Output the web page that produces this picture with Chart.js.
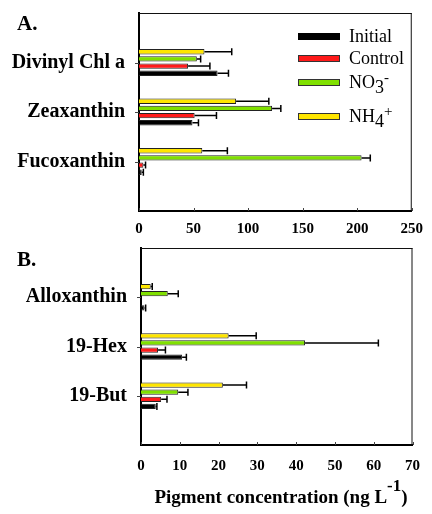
<!DOCTYPE html>
<html>
<head>
<meta charset="utf-8">
<script src="https://cdn.jsdelivr.net/npm/chart.js@4.4.0/dist/chart.umd.min.js"></script>
<style>
  html, body { margin: 0; padding: 0; background: #fff; }
  #wrap { position: relative; width: 432px; height: 514px; overflow: hidden;
          font-family: "Liberation Serif", "Times New Roman", serif; color: #000; }
  canvas { position: absolute; left: 0; }
  #chartA { top: 0; }
  #chartB { top: 245px; }
  .tag { position: absolute; left: 17px; font-weight: bold; font-size: 21px; line-height: 21px; }
  .leg { position: absolute; left: 298px; height: 20px; font-size: 18px; line-height: 20px; white-space: nowrap; }
  .leg .sw { position: absolute; left: 0; top: 7px; width: 40px; height: 5px; border: 1px solid #333; }
  .leg .tx { position: absolute; left: 51px; top: 0; }
  .lo { position: relative; top: 5px; }
  .hi { position: relative; top: -6px; font-size: 15px; }
  #xtitle { position: absolute; left: 140px; width: 282px; top: 487px; text-align: center;
            font-weight: bold; font-size: 19px; line-height: 20px; white-space: nowrap; }
  #xtitle sup { font-size: 17px; position: relative; top: -1px; vertical-align: top; line-height: 0; }
</style>
</head>
<body>
<div id="wrap">
  <canvas id="chartA" width="432" height="245"></canvas>
  <canvas id="chartB" width="432" height="269"></canvas>
  <div class="tag" style="top:13px">A.</div>
  <div class="tag" style="top:249px">B.</div>

  <div class="leg" style="top:26px"><span class="sw" style="background:#000;border-color:#000"></span><span class="tx">Initial</span></div>
  <div class="leg" style="top:48px"><span class="sw" style="background:#ff1a1a"></span><span class="tx">Control</span></div>
  <div class="leg" style="top:72px"><span class="sw" style="background:#80e000"></span><span class="tx">NO<span class="lo">3</span><span class="hi">-</span></span></div>
  <div class="leg" style="top:106px"><span class="sw" style="background:#ffe600"></span><span class="tx">NH<span class="lo">4</span><span class="hi">+</span></span></div>

  <div id="xtitle">Pigment concentration (ng L<sup>-1</sup>)</div>
</div>

<script>
// ---------- data ----------
// categories listed top -> bottom
const pigmentsA = ["Divinyl Chl a", "Zeaxanthin", "Fucoxanthin"];
const pigmentsB = ["Alloxanthin", "19-Hex", "19-But"];

const ticksA = [0, 50, 100, 150, 200, 250];
const ticksB = [0, 10, 20, 30, 40, 50, 60, 70];

// panel A means and +SD
const initialA = [72, 49, 2.5];
const initialErrA = [10, 5.5, 1.5];
const controlA = [45, 51, 4];
const controlErrA = [20, 20, 2];
const nitrateA = [53, 122, 204];
const nitrateErrA = [3.5, 8, 8];
const ammoniumA = [60, 89, 58];
const ammoniumErrA = [25, 30, 23];

// panel B means and +SD
const initialB = [0.9, 10.6, 3.8];
const initialErrB = [0.3, 1.1, 0.3];
const controlB = [0, 4.4, 5.2];
const controlErrB = [0, 1.9, 1.5];
const nitrateB = [6.9, 42.3, 9.6];
const nitrateErrB = [2.7, 18.9, 2.5];
const ammoniumB = [2.5, 22.6, 21.1];
const ammoniumErrB = [0.4, 7.1, 6.1];

const COLORS = { initial: "#000000", control: "#ff1a1a", nitrate: "#80e000", ammonium: "#ffe600" };
const SERIF = '"Liberation Serif", "Times New Roman", serif';

// empty slot above and below the three categories
const pad = (arr) => [null, ...arr, null];

/* ---------- plugins ---------- */

// +SD error bars, one-sided, with a cap
const errorBars = {
  id: "errorBars",
  afterDatasetsDraw(chart) {
    const { ctx } = chart;
    const xs = chart.scales.x;
    ctx.save();
    ctx.strokeStyle = "#000";
    ctx.lineWidth = 1.5;
    chart.data.datasets.forEach((ds, di) => {
      const meta = chart.getDatasetMeta(di);
      meta.data.forEach((bar, i) => {
        const v = ds.data[i];
        const e = ds.errors[i];
        if (v == null || !e) return;
        const x0 = xs.getPixelForValue(v);
        const x1 = xs.getPixelForValue(v + e);
        const y = bar.y;
        ctx.beginPath();
        ctx.moveTo(x0, y);
        ctx.lineTo(x1, y);
        ctx.moveTo(x1, y - 3.5);
        ctx.lineTo(x1, y + 3.5);
        ctx.stroke();
      });
    });
    ctx.restore();
  }
};

// top/right frame + small tick marks
const frame = {
  id: "frame",
  afterDraw(chart) {
    const { ctx, chartArea: a } = chart;
    const { x, y } = chart.scales;
    ctx.save();
    ctx.strokeStyle = "#111";
    ctx.lineWidth = 1;
    ctx.beginPath();
    ctx.moveTo(a.left, a.top + 0.5);
    ctx.lineTo(a.right, a.top + 0.5);
    ctx.moveTo(a.right - 0.5, a.top);
    ctx.lineTo(a.right - 0.5, a.bottom);
    ctx.stroke();

    ctx.strokeStyle = "#444";
    ctx.beginPath();
    x.ticks.forEach((t, i) => {
      const px = Math.round(x.getPixelForTick(i)) + 0.5;
      ctx.moveTo(px, a.bottom);
      ctx.lineTo(px, a.bottom - 3);
    });
    y.ticks.forEach((t, i) => {
      if (!y.getLabelForValue(t.value)) return;
      const py = Math.round(y.getPixelForTick(i)) + 0.5;
      ctx.moveTo(a.left, py);
      ctx.lineTo(a.left - 4, py);
    });
    ctx.stroke();
    ctx.restore();
  }
};

/* ---------- chart builder ---------- */

function makePanel(canvasId, cats, series, ticks, box) {
  const ctx = document.getElementById(canvasId).getContext("2d");
  const dataset = (label, vals, errs, color) => ({
    label,
    data: pad(vals),
    errors: pad(errs),
    backgroundColor: color,
    borderColor: "#222",
    borderWidth: 1,
    categoryPercentage: 0.58,
    barPercentage: 0.74,
  });

  return new Chart(ctx, {
    type: "bar",
    data: {
      labels: pad(cats).map((c) => c || ""),
      // top bar in each group first
      datasets: [
        dataset("NH4+", series.ammonium, series.ammoniumErr, COLORS.ammonium),
        dataset("NO3-", series.nitrate, series.nitrateErr, COLORS.nitrate),
        dataset("Control", series.control, series.controlErr, COLORS.control),
        dataset("Initial", series.initial, series.initialErr, COLORS.initial),
      ],
    },
    options: {
      indexAxis: "y",
      responsive: false,
      devicePixelRatio: 1,
      animation: false,
      layout: { padding: { left: 0, right: box.right, top: box.top, bottom: 0 } },
      plugins: { legend: { display: false }, tooltip: { enabled: false } },
      scales: {
        x: {
          min: ticks[0],
          max: ticks[ticks.length - 1],
          afterBuildTicks: (s) => { s.ticks = ticks.map((v) => ({ value: v })); },
          afterFit: (s) => { s.height = box.xHeight; },
          grid: { display: false, drawTicks: false },
          border: { display: true, color: "#000", width: 2 },
          ticks: {
            padding: box.labelPad,
            color: "#000",
            maxRotation: 0,
            font: { family: SERIF, size: 15, weight: "bold" },
          },
        },
        y: {
          offset: false,
          afterFit: (s) => {
            s.width = box.left;
            // the empty end slots need no room above/below
            s.paddingTop = 0;
            s.paddingBottom = 0;
          },
          grid: { display: false, drawTicks: false },
          border: { display: true, color: "#000", width: 2 },
          ticks: {
            padding: 14,
            color: "#000",
            autoSkip: false,
            font: { family: SERIF, size: 20, weight: "bold" },
          },
        },
      },
    },
    plugins: [errorBars, frame],
  });
}

makePanel("chartA", pigmentsA, {
  initial: initialA, initialErr: initialErrA,
  control: controlA, controlErr: controlErrA,
  nitrate: nitrateA, nitrateErr: nitrateErrA,
  ammonium: ammoniumA, ammoniumErr: ammoniumErrA,
}, ticksA, { left: 139, right: 14, top: 13, xHeight: 34, labelPad: 9 });

makePanel("chartB", pigmentsB, {
  initial: initialB, initialErr: initialErrB,
  control: controlB, controlErr: controlErrB,
  nitrate: nitrateB, nitrateErr: nitrateErrB,
  ammonium: ammoniumB, ammoniumErr: ammoniumErrB,
}, ticksB, { left: 141, right: 11, top: 3, xHeight: 69, labelPad: 12 });
</script>
</body>
</html>
